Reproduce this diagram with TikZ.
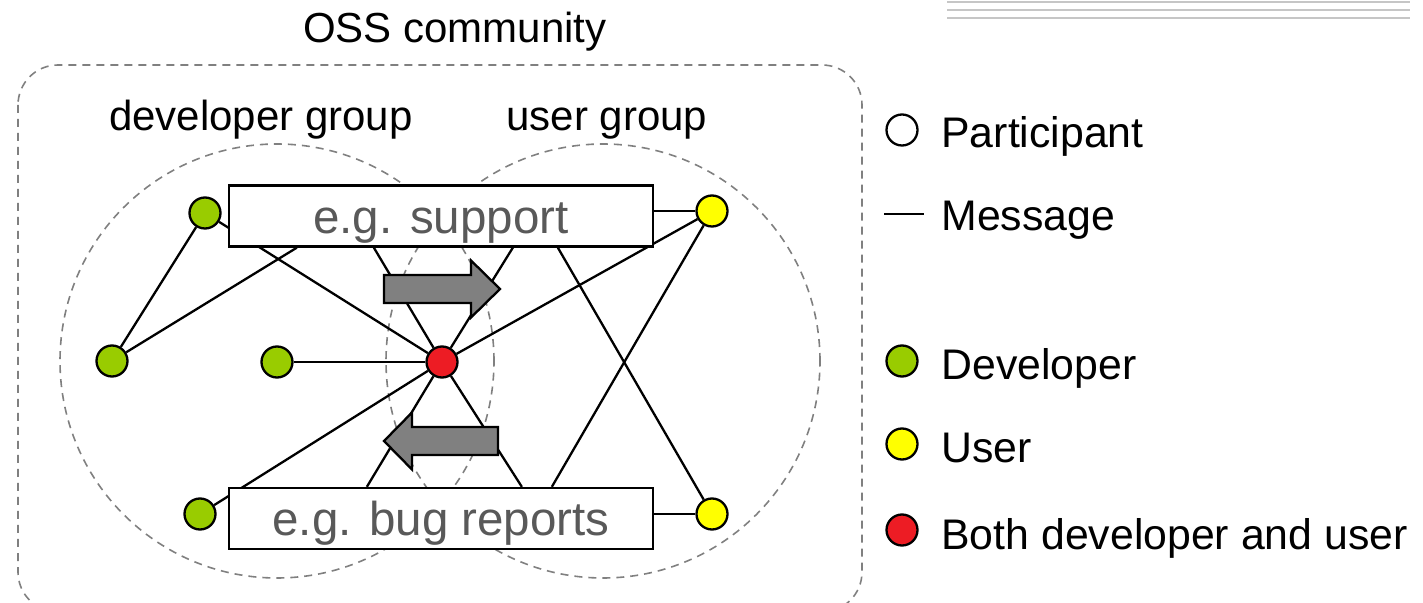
\documentclass[tikz,border=0pt]{standalone}
\usepackage{fontspec}
\setmainfont{Liberation Sans}
\usetikzlibrary{calc}
\definecolor{devgreen}{RGB}{153,204,0}
\definecolor{useryellow}{RGB}{255,255,0}
\definecolor{bothred}{RGB}{237,28,36}
\definecolor{boxtext}{RGB}{89,89,89}
\pgfdeclarelayer{background}
\pgfsetlayers{background,main}

\begin{document}
\begin{tikzpicture}[x=0.5pt, y=-0.5pt,
    msg/.style={draw, line width=1.15pt},
    grpline/.style={draw=gray, dash pattern=on 4pt off 3pt, line width=0.8pt},
    who/.style={circle, draw, line width=1.15pt, minimum size=15.5pt, inner sep=0pt},
    topicbox/.style={draw, line width=1.15pt, fill=white, minimum width=212pt, minimum height=30.5pt, inner sep=0pt,
        text height=20pt, text depth=2.5pt, text=boxtext, font=\fontsize{23.75}{28}\selectfont},
    flow/.style={draw=black, line width=1.15pt, fill=gray, line join=miter},
    lbl/.style={anchor=base, inner sep=0pt, font=\fontsize{21}{25}\selectfont},
    keytext/.style={anchor=base west, inner sep=0pt, font=\fontsize{21.4}{25}\selectfont}]
    \useasboundingbox (0,0) rectangle (1423,603);
    \foreach \y in {2,10,18} {
        \draw [gray!45, line width=1.2pt] (947,\y) -- (1410,\y);
    }
    \node[lbl] (oss) at (455,43) {OSS community};
    \node[lbl] (devgrp) at (261,131) {developer group};
    \node[lbl] (usrgrp) at (607,131) {user group};
    % participants
    \node[who, fill=devgreen] (gt) at (205,213) {};
    \node[who, fill=devgreen] (gl) at (112,361) {};
    \node[who, fill=devgreen] (gm) at (277,362) {};
    \node[who, fill=devgreen] (gb) at (200,514) {};
    \node[who, fill=bothred] (rc) at (442,362) {};
    \node[who, fill=useryellow] (yt) at (712,211) {};
    \node[who, fill=useryellow] (yb) at (712,514) {};
    \node[topicbox] (sup) at (441,216) {e.g. support};
    \node[topicbox] (bug) at (441,518.5) {e.g. bug reports};
    \begin{pgfonlayer}{background}
    \draw [grpline, rounded corners=20pt] (18,65) rectangle (862,612);
    \draw [grpline] (277,361) circle [radius=108.5pt];
    \draw [grpline] (603,361) circle [radius=108.5pt];
    % messages
    \draw [msg] (gt) -- (gl);
    \foreach \n in {gt,gm,gb,yt} {
        \draw [msg] (rc) -- (\n);
    }
    \foreach \n/\dx in {gl/69, rc/146, rc/285, yb/330} {
        \draw [msg] (\n) -- ($(sup.south west)+(\dx,0)$);
    }
    \foreach \n/\dx in {rc/139, rc/294, yt/324} {
        \draw [msg] (\n) -- ($(bug.north west)+(\dx,0)$);
    }
    \draw [msg] (yt) -- (yt -| sup.east);
    \draw [msg] (yb) -- (yb -| bug.east);
    \end{pgfonlayer}
    \draw [flow] (384,275) -- (471,275) -- (471,260.5) -- (500,289) -- (471,317.5) -- (471,303) -- (384,303) -- cycle;
    \draw [flow] (498,427) -- (412,427) -- (412,412.5) -- (384,441) -- (412,469.5) -- (412,455) -- (498,455) -- cycle;
    % legend
    \node[who] (legpart) at (902,130) {};
    \node[keytext] (txtpart) at (941,148) {Participant};
    \coordinate (msgl) at (884,214);
    \coordinate (msgr) at (924,214);
    \draw [msg] (msgl) -- (msgr);
    \node[keytext] (txtmsg) at (941,231) {Message};
    \foreach \y/\c/\t in {361/devgreen/Developer, 444/useryellow/User, 530/bothred/Both developer and user} {
        \node[who, fill=\c] (leg\c) at (902,\y) {};
        \node[keytext] (txt\c) at (941,\y+19) {\t};
    }
\end{tikzpicture}
\end{document}
